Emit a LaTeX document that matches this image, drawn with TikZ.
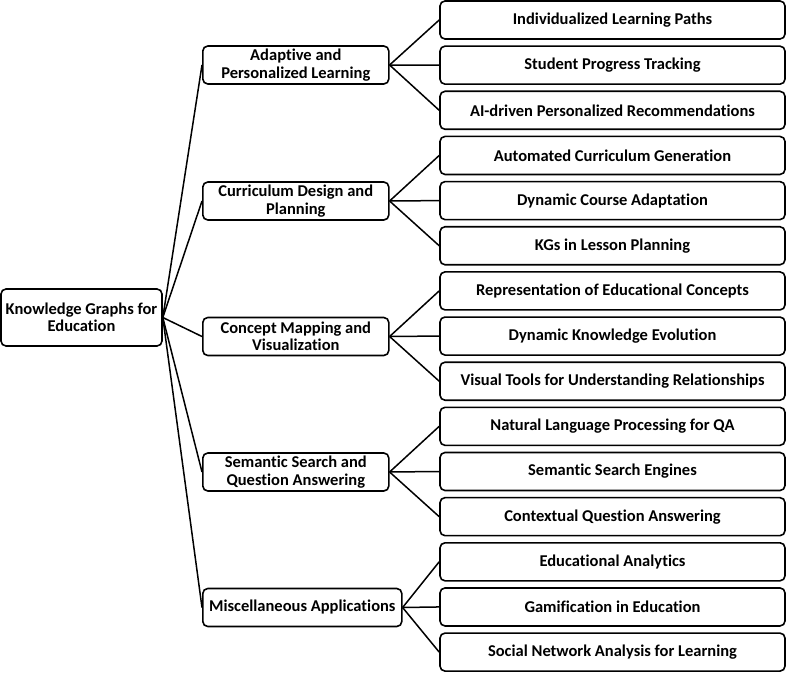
\documentclass[tikz,border=0pt]{standalone}
\usepackage{fontspec}
\setmainfont{Carlito}[Ligatures={NoCommon}]
\begin{document}
\begin{tikzpicture}[x=1pt,y=-1pt,
  font=\bfseries\fontsize{16.5}{17.5}\selectfont,
  box/.style={draw, line width=1.6pt, rounded corners=5pt, align=center, inner sep=0pt},
  leaf/.style={box, minimum width=345pt, minimum height=38pt},
  mid/.style={box, minimum width=186pt, minimum height=38pt, anchor=west},
  link/.style={line width=1.5pt}]
\useasboundingbox (0,0) rectangle (787,674);
\node[box, minimum width=161pt, minimum height=57pt] (root) at (81.5,317.5) {Knowledge Graphs for\\Education};

\node[mid] (m1) at (202,65) {Adaptive and\\Personalized Learning};
\node[mid] (m2) at (202,201) {Curriculum Design and\\Planning};
\node[mid] (m3) at (202,336.5) {Concept Mapping and\\Visualization};
\node[mid] (m4) at (202,472) {Semantic Search and\\Question Answering};
\node[mid, minimum width=199pt] (m5) at (202,607.5) {Miscellaneous Applications};

\node[leaf] (l1) at (612.5,20) {Individualized Learning Paths};
\node[leaf] (l2) at (612.5,65.15) {Student Progress Tracking};
\node[leaf] (l3) at (612.5,110.3) {AI-driven Personalized Recommendations};
\node[leaf] (l4) at (612.5,155.45) {Automated Curriculum Generation};
\node[leaf] (l5) at (612.5,200.6) {Dynamic Course Adaptation};
\node[leaf] (l6) at (612.5,245.75) {KGs in Lesson Planning};
\node[leaf] (l7) at (612.5,290.9) {Representation of Educational Concepts};
\node[leaf] (l8) at (612.5,336.05) {Dynamic Knowledge Evolution};
\node[leaf] (l9) at (612.5,381.2) {Visual Tools for Understanding Relationships};
\node[leaf] (l10) at (612.5,426.35) {Natural Language Processing for QA};
\node[leaf] (l11) at (612.5,471.5) {Semantic Search Engines};
\node[leaf] (l12) at (612.5,516.65) {Contextual Question Answering};
\node[leaf] (l13) at (612.5,561.8) {Educational Analytics};
\node[leaf] (l14) at (612.5,606.95) {Gamification in Education};
\node[leaf] (l15) at (612.5,652.1) {Social Network Analysis for Learning};

\foreach \m in {1,...,5} \draw[link] (root.east) -- (m\m.west);
\foreach \l in {1,2,3} \draw[link] (m1.east) -- (l\l.west);
\foreach \l in {4,5,6} \draw[link] (m2.east) -- (l\l.west);
\foreach \l in {7,8,9} \draw[link] (m3.east) -- (l\l.west);
\foreach \l in {10,11,12} \draw[link] (m4.east) -- (l\l.west);
\foreach \l in {13,14,15} \draw[link] (m5.east) -- (l\l.west);
\end{tikzpicture}
\end{document}
